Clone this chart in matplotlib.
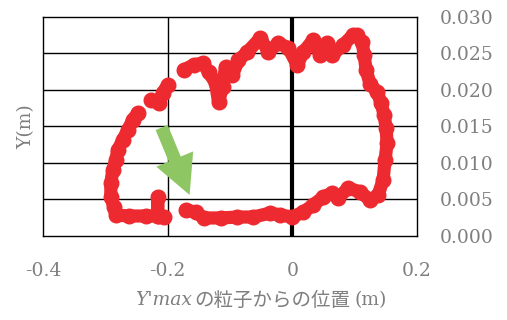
import matplotlib
matplotlib.use("Agg")
import matplotlib.pyplot as plt

plt.rcParams['axes.unicode_minus'] = False

# ---- data (m) ----
# main stroke: bottom (left->right), right side (up), top (right->left)
main_x = [-0.1712, -0.1552, -0.1424, -0.1152, -0.0880, -0.0624, -0.0352, -0.0192, 0.0000,
          0.0176, 0.0336, 0.0496, 0.0640, 0.0736, 0.0896, 0.1088, 0.1248, 0.1376, 0.1456,
          0.1488, 0.1520, 0.1504, 0.1472, 0.1424, 0.1360, 0.1248, 0.1184, 0.1152, 0.1120,
          0.1040, 0.0976, 0.0816, 0.0640, 0.0560, 0.0448, 0.0336, 0.0176, 0.0080, -0.0064,
          -0.0224, -0.0384, -0.0512, -0.0720, -0.0864, -0.0960, -0.1072, -0.1120, -0.1184,
          -0.1232, -0.1344, -0.1440, -0.1584, -0.1744]
main_y = [0.00356, 0.00329, 0.00247, 0.00247, 0.00260, 0.00260, 0.00315, 0.00288, 0.00260,
          0.00329, 0.00425, 0.00534, 0.00589, 0.00521, 0.00658, 0.00603, 0.00493, 0.00562, 0.00767,
          0.01041, 0.01274, 0.01480, 0.01658, 0.01822, 0.01973, 0.02082, 0.02274, 0.02480, 0.02658,
          0.02754, 0.02754, 0.02617, 0.02480, 0.02644, 0.02480, 0.02685, 0.02521, 0.02343, 0.02576,
          0.02644, 0.02521, 0.02713, 0.02521, 0.02411, 0.02206, 0.02315, 0.02041, 0.01836,
          0.02096, 0.02247, 0.02370, 0.02343, 0.02274]

# short piece on the upper-left
mid_x = [-0.2000, -0.2080, -0.2144, -0.2272]
mid_y = [0.02069, 0.01959, 0.01822, 0.01863]

# left arc down to the bottom-left corner and the small spike
left_x = [-0.2480, -0.2560, -0.2640, -0.2720, -0.2800, -0.2832, -0.2880, -0.2912, -0.2912,
          -0.2864, -0.2832, -0.2624, -0.2352, -0.2160, -0.2160, -0.2160, -0.2064]
left_y = [0.01685, 0.01589, 0.01452, 0.01315, 0.01178, 0.01041, 0.00904, 0.00726, 0.00534,
          0.00397, 0.00288, 0.00274, 0.00274, 0.00274, 0.00534, 0.00274, 0.00260]

x_ticks = [-0.4, -0.2, 0.0, 0.2]
x_tick_labels = ["-0.4", "-0.2", "0", "0.2"]
y_ticks = [0.000, 0.005, 0.010, 0.015, 0.020, 0.025, 0.030]
y_tick_labels = ["0.000", "0.005", "0.010", "0.015", "0.020", "0.025", "0.030"]

arrow_tail = (-0.2096, 0.01486)
arrow_tip = (-0.1648, 0.00562)

RED = '#ED2A30'
GREEN = '#8DC663'
GRAY = '#7F7F7F'
SERIF = ['DejaVu Serif', 'Noto Sans CJK JP']
JP = ['Noto Sans CJK JP', 'DejaVu Serif']

fig = plt.figure(figsize=(5.07, 3.20), dpi=100)
ax = fig.add_axes([0.0848, 0.2625, 0.7377, 0.6844])

ax.set_xlim(-0.4, 0.2)
ax.set_ylim(0.0, 0.030)

# grid
for yv in y_ticks[1:-1]:
    ax.axhline(yv, color='black', lw=1.0, zorder=1)
ax.axvline(-0.2, color='black', lw=1.0, zorder=1)
ax.axvline(0.0, color='black', lw=3.0, zorder=1)
for s in ax.spines.values():
    s.set_color('black')
    s.set_linewidth(1.0)

# trajectory
for xs, ys in [(main_x, main_y), (mid_x, mid_y), (left_x, left_y)]:
    ax.plot(xs, ys, color=RED, lw=9.5, marker='o', ms=10.5, mec=RED, mfc=RED,
            solid_capstyle='round', solid_joinstyle='round', zorder=3)

# arrow
ax.annotate('', xy=arrow_tip, xytext=arrow_tail,
            arrowprops=dict(arrowstyle='simple,head_length=2.8,head_width=2.87,tail_width=0.94',
                            mutation_scale=10, fc=GREEN, ec='none', shrinkA=0, shrinkB=0),
            zorder=4)

# ticks
ax.set_xticks(x_ticks)
ax.set_xticklabels(x_tick_labels)
ax.yaxis.tick_right()
ax.set_yticks(y_ticks)
ax.set_yticklabels(y_tick_labels)
ax.tick_params(axis='x', length=0, pad=19, labelsize=13.5, labelcolor=GRAY)
ax.tick_params(axis='y', length=0, pad=16.5, labelsize=13.5, labelcolor=GRAY)
for lab in ax.get_xticklabels() + ax.get_yticklabels():
    lab.set_family(SERIF)

fig.text(26 / 507, 1 - 127 / 320, 'Y(m)', rotation=90, ha='center', va='center',
         fontsize=13.5, color=GRAY, family=SERIF)
fig.text(135 / 507, 1 - 300 / 320, "Y'max", ha='left', va='center',
         fontsize=13.5, color=GRAY, family=SERIF, style='italic')
fig.text(194 / 507, 1 - 300 / 320, "の粒子からの位置", ha='left', va='center',
         fontsize=14, color=GRAY, family=JP)
fig.text(354 / 507, 1 - 300 / 320, "(m)", ha='left', va='center',
         fontsize=13.5, color=GRAY, family=SERIF)

fig.savefig('out.png', dpi=100)
